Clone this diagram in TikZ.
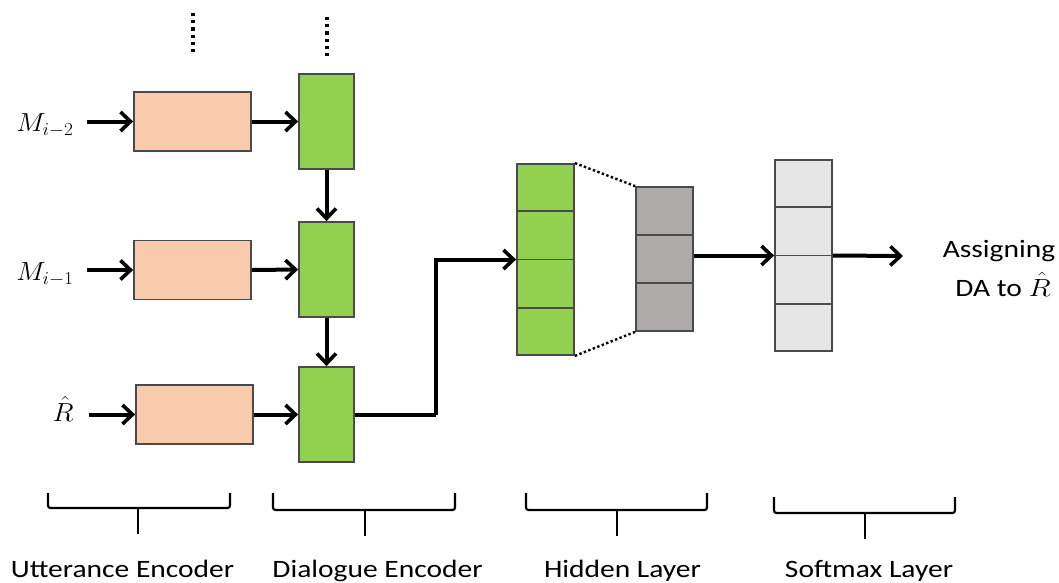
\documentclass[tikz,border=0pt]{standalone}
\usepackage{fontspec}
\setmainfont{Carlito}
\usetikzlibrary{arrows.meta,calc}

\definecolor{encgreen}{HTML}{92D050}
\definecolor{uttpeach}{HTML}{F8CBAD}
\definecolor{hidgray}{HTML}{AEAAAA}
\definecolor{softgray}{HTML}{E7E6E6}
\definecolor{edgegray}{HTML}{4A4A4A}

\newcommand{\lbl}[1]{\scalebox{1.18}[1]{#1}}
\newcommand{\mlbl}[1]{\scalebox{1.12}[1.05]{#1}}

\tikzset{
  box/.style={draw=edgegray, line width=1.8pt, inner sep=0pt, minimum width=#1},
  uttbox/.style={box=117pt, fill=uttpeach, minimum height=59pt},
  encbox/.style={box=55pt, fill=encgreen, minimum height=95pt},
  arr/.style={line width=4pt, -{Straight Barb[length=10pt,width=19pt,line width=3.6pt]}},
  cell/.style={draw=edgegray, line width=1.8pt},
  dots/.style={line width=3.2pt, dash pattern=on 3.2pt off 4pt},
  linkdots/.style={line width=2.4pt, dash pattern=on 2.4pt off 2.4pt},
  bracket/.style={line width=2.2pt, rounded corners=2.5pt},
  caption/.style={font=\fontsize{25}{28}\selectfont, anchor=base, inner sep=0pt},
  mathlbl/.style={font=\fontsize{25}{30}\selectfont, inner sep=0pt},
}

\begin{document}
\begin{tikzpicture}[x=1pt, y=-1pt]
\useasboundingbox (0,0) rectangle (1059,582);

% continuation dots above the first encoder row
\coordinate (u0a) at (193,13);  \coordinate (u0b) at (193,55);
\coordinate (d0a) at (327,17);  \coordinate (d0b) at (327,59);
\draw[dots] (u0a) -- (u0b);
\draw[dots] (d0a) -- (d0b);

% utterance encoders
\node[uttbox] (u1) at (192.5,121.5) {};
\node[uttbox] (u2) at (192.5,270) {};
\node[uttbox] (u3) at (194.5,414.5) {};

% dialogue encoder steps
\node[encbox] (g1) at (326.5,121.5) {};
\node[encbox] (g2) at (326.5,269.5) {};
\node[encbox] (g3) at (326.5,414.5) {};

% inputs
\node[mathlbl] (m2) at (45,125) {\mlbl{$M_{i-2}$}};
\node[mathlbl] (m1) at (45,274) {\mlbl{$M_{i-1}$}};
\node[mathlbl] (rh) at (63,409) {\mlbl{$\hat{R}$}};
\coordinate (i1) at (87,121.5);
\coordinate (i2) at (87,270);
\coordinate (i3) at (89,414.5);
\draw[arr] (i1) -- (u1.west);
\draw[arr] (i2) -- (u2.west);
\draw[arr] (i3) -- (u3.west);

\draw[arr] (u1.east) -- (g1.west);
\draw[arr] (u2.east) -- (g2.west);
\draw[arr] (u3.east) -- (g3.west);
\draw[arr] (g1.south) -- (g2.north);
\draw[arr] (g2.south) -- (g3.north);

% hidden layer input vector (4 cells)
\node[box=57pt, fill=encgreen, minimum height=191pt] (hid) at (545.5,259.5) {};
\foreach \k in {1,2,3}
  \draw[cell] ($(hid.north west)!\k/4!(hid.south west)$) -- ($(hid.north east)!\k/4!(hid.south east)$);

% hidden layer output vector (3 cells)
\node[box=57pt, fill=hidgray, minimum height=144pt] (hout) at (664.5,259) {};
\foreach \k in {1,2}
  \draw[cell] ($(hout.north west)!\k/3!(hout.south west)$) -- ($(hout.north east)!\k/3!(hout.south east)$);

\draw[linkdots] (hid.north east) -- (hout.north west);
\draw[linkdots] (hid.south east) -- (hout.south west);

% softmax vector (4 cells)
\node[box=57pt, fill=softgray, minimum height=191pt] (soft) at (803.5,255.5) {};
\foreach \k in {1,2,3}
  \draw[cell] ($(soft.north west)!\k/4!(soft.south west)$) -- ($(soft.north east)!\k/4!(soft.south east)$);

% connections between layers
\coordinate (jog) at (436,0);
\draw[line width=4pt] (g3.east) -- (g3.east -| jog);
\draw[arr] (g3.east -| jog) |- (hid.west);
\draw[arr] (soft.west -| hout.east) -- (soft.west);
\coordinate (out) at (903,256);
\draw[arr] (soft.east) -- (out);

\node[caption] (as1) at (999,257) {\lbl{Assigning}};
\node[caption] (as2) at (1003,296) {\lbl{DA to $\hat{R}$}};

% stage brackets
\foreach \a/\b/\m/\t/\h in {48/230/138/493/508, 273/455/365/493/510, 526/707/617/493/510, 774/955/865/497/513}{
  \draw[bracket] (\a,\t) -- (\a,\h) -- (\b,\h) -- (\b,\t);
  \draw[line width=2.2pt] (\m,\h) -- (\m,\h+26);
}

\node[caption] (c1) at (122.5,577) {\lbl{Utterance Encoder}};
\node[caption] (c2) at (377.5,577) {\lbl{Dialogue Encoder}};
\node[caption] (c3) at (622.5,577) {\lbl{Hidden Layer}};
\node[caption] (c4) at (869,577) {\lbl{Softmax Layer}};
\end{tikzpicture}
\end{document}
